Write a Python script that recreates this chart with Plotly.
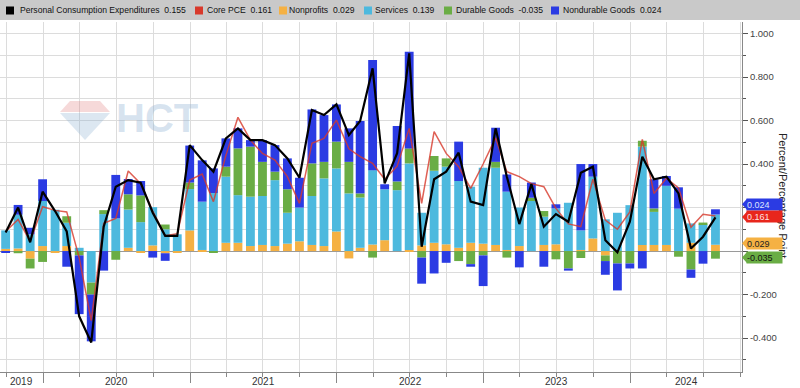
import plotly.graph_objects as go
import pandas as pd

# ---------------- data (monthly contributions, Sep 2019 .. Jul 2024) ----------------
start_month = "2019-10-01"
n_months = 59
dates = pd.date_range(start_month, periods=n_months, freq="MS") - pd.Timedelta(days=1)

nonprofits = [0.010, 0.012, -0.035, 0.023, -0.005, 0.023, 0.000, 0.000, 0.000, 0.000,
              0.015, -0.005, 0.026, -0.010, -0.005, 0.095, 0.005, 0.000, 0.038, 0.038,
              0.023, 0.028, 0.023, 0.034, 0.045, 0.028, 0.023, 0.090, -0.034, 0.015,
              0.030, 0.050, 0.000, 0.005, 0.026, 0.038, 0.031, 0.015, 0.038, 0.034,
              0.028, 0.005, 0.023, 0.000, 0.028, 0.031, 0.000, 0.005, 0.058, -0.020,
              0.000, 0.000, 0.028, 0.028, 0.028, 0.000, 0.038, 0.000, 0.029]
services = [0.085, 0.155, 0.077, 0.207, 0.190, 0.107, 0.015, -0.145, 0.170, 0.150,
            0.176, 0.133, 0.176, 0.100, 0.077, 0.190, 0.222, 0.267, 0.304, 0.219,
            0.227, 0.225, 0.303, 0.142, 0.155, 0.225, 0.311, 0.290, 0.265, 0.231,
            0.342, 0.234, 0.280, 0.398, 0.150, 0.331, 0.357, 0.307, 0.258, 0.349,
            0.355, 0.268, 0.177, 0.230, 0.130, 0.165, 0.222, 0.090, 0.284, 0.146,
            0.176, 0.211, 0.452, 0.152, 0.272, 0.195, 0.089, 0.123, 0.139]
durable = [0.000, -0.010, -0.045, -0.050, 0.000, 0.030, -0.020, -0.055, 0.018, -0.040,
           0.070, 0.123, 0.000, 0.022, 0.000, 0.030, 0.000, -0.008, 0.046, 0.215,
           0.230, 0.157, 0.039, 0.108, 0.000, 0.150, 0.076, 0.123, 0.145, 0.019,
           -0.030, 0.000, 0.040, 0.069, -0.030, 0.068, 0.038, -0.046, -0.060, -0.020,
           0.027, -0.030, 0.000, 0.015, 0.026, -0.038, -0.080, -0.032, 0.000, -0.026,
           -0.057, -0.057, 0.027, 0.016, 0.000, -0.026, -0.085, 0.008, -0.035]
nondurable = [-0.005, 0.045, 0.030, 0.100, 0.000, -0.072, -0.270, -0.215, -0.090, 0.200,
              0.070, 0.066, -0.030, -0.035, 0.000, 0.170, 0.190, 0.113, 0.130, 0.092,
              0.030, 0.100, 0.122, 0.142, 0.137, 0.248, 0.215, 0.171, 0.154, 0.333,
              0.506, 0.023, 0.255, 0.444, -0.120, -0.103, -0.054, 0.181, -0.012, -0.141,
              0.157, 0.079, -0.075, 0.070, -0.072, 0.019, -0.010, 0.305, 0.058, -0.063,
              -0.124, -0.023, -0.080, 0.134, 0.045, 0.098, -0.038, -0.058, 0.024]
pce = [0.085, 0.200, 0.040, 0.273, 0.184, 0.090, -0.300, -0.420, 0.112, 0.296,
       0.326, 0.314, 0.176, 0.070, 0.070, 0.487, 0.418, 0.365, 0.518, 0.564,
       0.510, 0.510, 0.487, 0.426, 0.337, 0.648, 0.625, 0.674, 0.533, 0.598,
       0.840, 0.311, 0.450, 0.909, 0.020, 0.330, 0.365, 0.452, 0.227, 0.211,
       0.564, 0.342, 0.124, 0.308, 0.112, 0.170, 0.135, 0.360, 0.388, 0.050,
       -0.006, 0.135, 0.434, 0.330, 0.342, 0.265, 0.012, 0.066, 0.155]
core = [0.090, 0.145, 0.045, 0.204, 0.187, 0.180, -0.030, -0.320, 0.128, 0.150,
        0.368, 0.310, 0.184, 0.070, 0.080, 0.326, 0.354, 0.227, 0.440, 0.615,
        0.510, 0.449, 0.418, 0.342, 0.219, 0.495, 0.518, 0.602, 0.470, 0.434,
        0.403, 0.330, 0.390, 0.564, 0.219, 0.549, 0.449, 0.388, 0.288, 0.400,
        0.520, 0.365, 0.342, 0.310, 0.296, 0.196, 0.125, 0.112, 0.330, 0.142,
        0.100, 0.180, 0.513, 0.265, 0.335, 0.290, 0.109, 0.169, 0.161]

series_names = ["Personal Consumption Expenditures", "Core PCE", "Nonprofits",
                "Services", "Durable Goods", "Nondurable Goods"]
last_values = [pce[-1], core[-1], nonprofits[-1], services[-1], durable[-1], nondurable[-1]]
year_labels = ["2019", "2020", "2021", "2022", "2023", "2024"]
y_ticks = [-0.4, -0.2, 0.0, 0.2, 0.4, 0.6, 0.8, 1.0]
# 0.000 and 0.200 sit behind the value tags in the original
y_ticktext = ["-0.400", "-0.200", "", "", "0.400", "0.600", "0.800", "1.000"]

# ---------------- styling ----------------
C_BLACK = "#000000"
C_RED = "#D8392B"
C_ORANGE = "#F5B143"
C_CYAN = "#4DB9DE"
C_GREEN = "#6AAD45"
C_BLUE = "#2B3BE3"
GRID = "#DCDCDC"
FONT = "Liberation Sans"

x_left = pd.Timestamp("2019-09-16")
x_right = pd.Timestamp("2024-10-05")
PX_W = 742.0   # plot width in px
PX_T = 22.0
PX_B = 372.0
PX_H = PX_B - PX_T
Y_RANGE = [-0.556, 1.053]
PX_PER_UNIT = PX_H / (Y_RANGE[1] - Y_RANGE[0])

def px_x(p):
    return p / PX_W

def px_y(p):
    return (PX_B - p) / PX_H

bar_w = 22 * 86400000

fig = go.Figure()
for name, vals, col in [("Nonprofits", nonprofits, C_ORANGE),
                        ("Services", services, C_CYAN),
                        ("Durable Goods", durable, C_GREEN),
                        ("Nondurable Goods", nondurable, C_BLUE)]:
    fig.add_trace(go.Bar(x=dates, y=vals, name=name, marker=dict(color=col, line=dict(width=0)),
                         width=bar_w, showlegend=False))

fig.add_trace(go.Scatter(x=dates, y=core, mode="lines", name="Core PCE",
                         line=dict(color=C_RED, width=1.5), opacity=0.8, showlegend=False))
fig.add_trace(go.Scatter(x=dates, y=pce, mode="lines", name="Personal Consumption Expenditures",
                         line=dict(color=C_BLACK, width=2.2), showlegend=False))

annotations = []
shapes = []

# legend bar
shapes.append(dict(type="rect", xref="paper", yref="paper", x0=px_x(0), x1=px_x(800),
                   y0=px_y(20), y1=px_y(0), fillcolor="#C9C9C9", line=dict(width=0), layer="below"))
legend_cols = [C_BLACK, C_RED, C_ORANGE, C_CYAN, C_GREEN, C_BLUE]
sq_x = [6, 195, 279, 364, 444, 551]
txt_x = [18, 205, 287, 373, 454, 561]
for nm, v, col, sx, tx in zip(series_names, last_values, legend_cols, sq_x, txt_x):
    shapes.append(dict(type="rect", xref="paper", yref="paper", x0=px_x(sx), x1=px_x(sx + 8),
                       y0=px_y(14.5), y1=px_y(6.5), fillcolor=col, line=dict(width=0)))
    annotations.append(dict(xref="paper", yref="paper", x=px_x(tx), y=px_y(10.5),
                            xanchor="left", yanchor="middle", showarrow=False,
                            text=f"{nm}  {v:.3f}",
                            font=dict(family=FONT, size=8.6, color="#111111")))

# year labels (centred in the visible portion of each year)
for yl in year_labels:
    a = max(pd.Timestamp(f"{yl}-01-01"), x_left)
    b = min(pd.Timestamp(f"{int(yl)+1}-01-01"), x_right)
    mid = a + (b - a) / 2
    annotations.append(dict(xref="x", yref="paper", x=mid, y=0, yshift=-9, yanchor="middle",
                            showarrow=False, text=yl,
                            font=dict(family=FONT, size=10, color="#333333")))

# axis title
annotations.append(dict(xref="paper", yref="paper", x=px_x(791), y=px_y(195), showarrow=False,
                        text="Percent/Percentage Point", textangle=90,
                        font=dict(family=FONT, size=11, color="#222222")))

# watermark
shapes.append(dict(type="path", xref="paper", yref="paper",
                   path=f"M {px_x(60)},{px_y(112)} L {px_x(70)},{px_y(101)} L {px_x(100)},{px_y(101)} "
                        f"L {px_x(110)},{px_y(112)} Z",
                   fillcolor="rgba(225,130,130,0.30)", line=dict(width=0)))
shapes.append(dict(type="path", xref="paper", yref="paper",
                   path=f"M {px_x(60)},{px_y(113)} L {px_x(110)},{px_y(113)} L {px_x(85)},{px_y(140)} Z",
                   fillcolor="rgba(140,175,210,0.30)", line=dict(width=0)))
annotations.append(dict(xref="paper", yref="paper", x=px_x(114), y=px_y(118), xanchor="left",
                        yanchor="middle", showarrow=False, text="<b>HCT</b>",
                        font=dict(family="Liberation Sans", size=40, color="rgba(140,175,210,0.35)")))

# value tags on the right axis (with a small pointer towards the axis)
tags = [(0.215, f"{nondurable[-1]:.3f}", C_BLUE, "#DDE3FF"),
        (0.157, f"{core[-1]:.3f}", "#E8261C", "#FFE0E0"),
        (0.036, f"{nonprofits[-1]:.3f}", C_ORANGE, "#222222"),
        (-0.030, f"{durable[-1]:.3f}", C_GREEN, "#111111")]
half_h = 5.5 / PX_PER_UNIT
for yv, t, bg, fc in tags:
    shapes.append(dict(type="path", xref="paper", yref="y",
                       path=f"M {px_x(742)},{yv} L {px_x(747)},{yv + half_h} "
                            f"L {px_x(747)},{yv - half_h} Z",
                       fillcolor=bg, line=dict(width=0)))
    annotations.append(dict(xref="paper", yref="y", x=1, xshift=4, y=yv, xanchor="left",
                            yanchor="middle", showarrow=False, text=t, width=35, height=11,
                            align="left", valign="middle", bgcolor=bg, borderpad=0,
                            font=dict(family=FONT, size=9, color=fc)))

fig.update_layout(
    width=800, height=388,
    margin=dict(l=0, r=800 - int(PX_W), t=int(PX_T), b=388 - int(PX_B)),
    paper_bgcolor="white", plot_bgcolor="white",
    barmode="relative", bargap=0.2,
    showlegend=False,
    font=dict(family=FONT),
    shapes=shapes, annotations=annotations,
    xaxis=dict(type="date", range=[x_left, x_right],
               tick0="2020-01-01", dtick="M12", ticks="outside", ticklen=10, tickcolor="#888888",
               showticklabels=False, showgrid=True, gridcolor=GRID, gridwidth=1,
               showline=True, linecolor="#888888", linewidth=1, zeroline=False,
               minor=dict(tick0="2019-10-01", dtick="M3", ticks="outside", ticklen=4,
                          tickcolor="#888888", showgrid=True, gridcolor=GRID, gridwidth=1)),
    yaxis=dict(side="right", range=Y_RANGE, tickvals=y_ticks, ticktext=y_ticktext,
               ticks="outside", ticklen=5, tickcolor="#555555",
               tickfont=dict(family=FONT, size=9.5, color="#444444"),
               showgrid=True, gridcolor=GRID, gridwidth=1,
               showline=True, linecolor="#888888", linewidth=1,
               zeroline=True, zerolinecolor="#9A9A9A", zerolinewidth=1,
               minor=dict(dtick=0.1, tick0=0, ticks="outside", ticklen=3, tickcolor="#555555",
                          showgrid=True, gridcolor=GRID, gridwidth=1)),
)

fig.write_html("out.html", config={"displayModeBar": False},
               post_script="document.body.style.margin='0px';document.body.style.padding='0px';")
